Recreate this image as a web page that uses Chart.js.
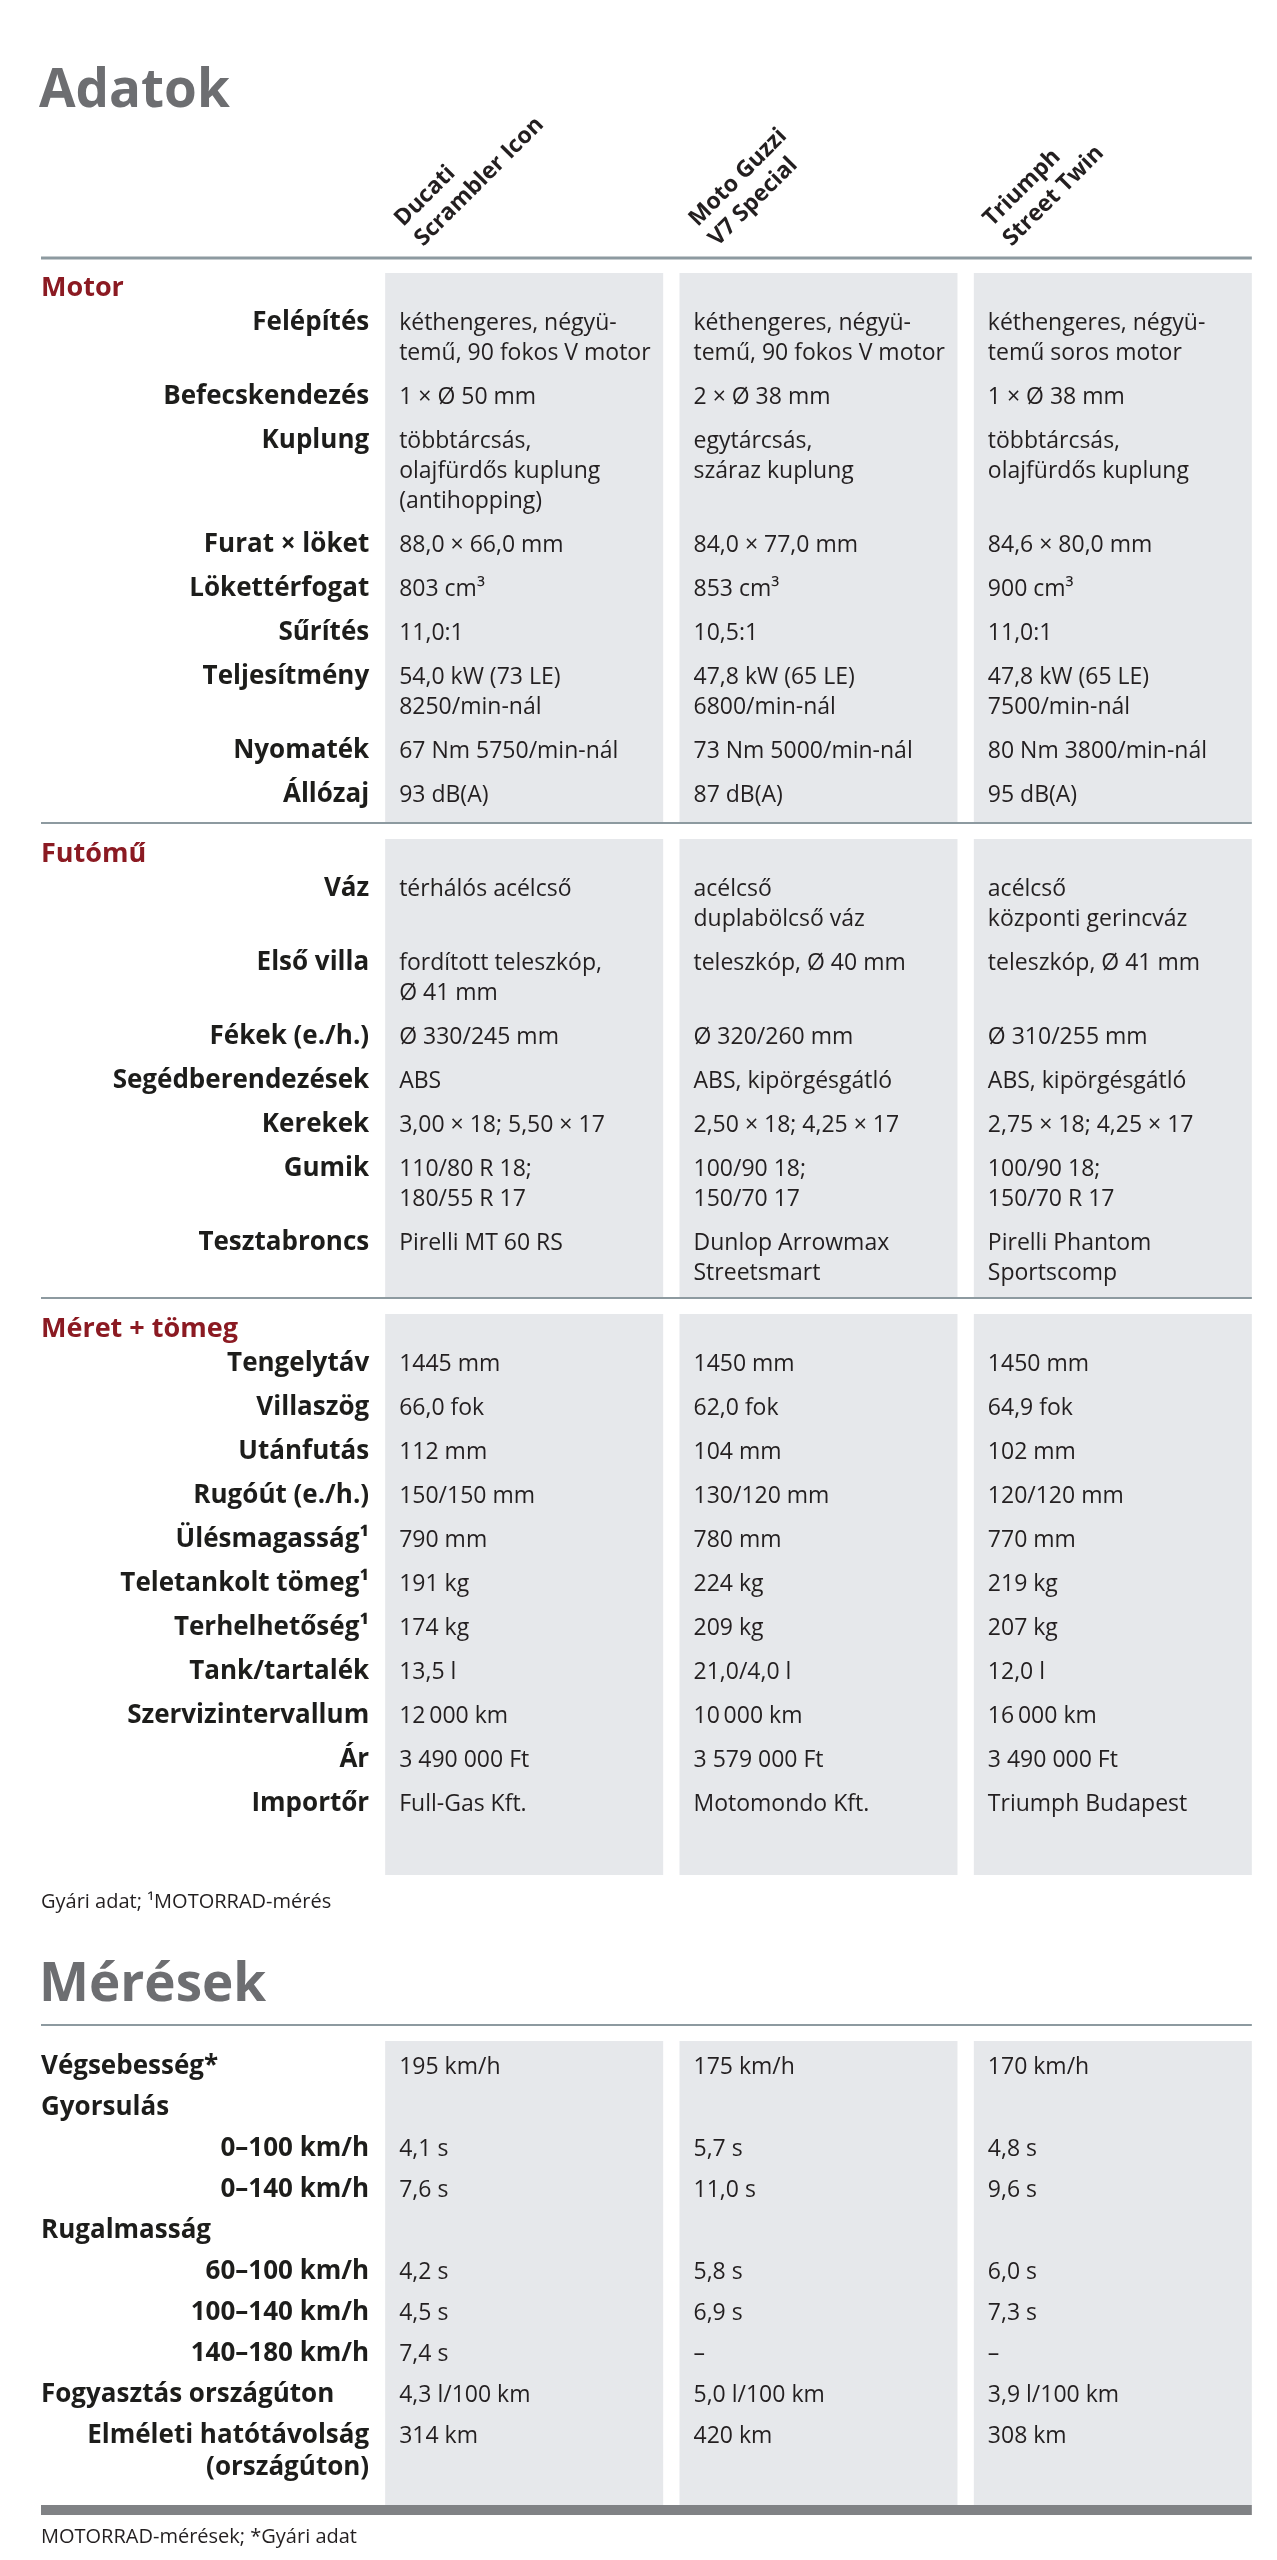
<!DOCTYPE html>
<html lang="hu">
<head>
<meta charset="utf-8">
<title>Adatok – Mérések</title>
<script src="https://cdn.jsdelivr.net/npm/chart.js@4.4.1/dist/chart.umd.min.js"></script>
<style>
  html, body { margin: 0; padding: 0; background: #fff; }
  #wrap { width: 1277px; height: 2560px; }
</style>
</head>
<body>
<div id="wrap"><canvas id="specChart" width="1277" height="2560"></canvas></div>
<script>
// bikes (column heads)
const bikes = [['Ducati', 'Scrambler Icon'], ['Moto Guzzi', 'V7 Special'], ['Triumph', 'Street Twin']];
const sectionTitles = ['Motor', 'Futómű', 'Méret + tömeg'];

const motorLabels = ['Felépítés', 'Befecskendezés', 'Kuplung', 'Furat × löket', 'Lökettérfogat', 'Sűrítés', 'Teljesítmény', 'Nyomaték', 'Állózaj'];
const motorDucati = ['kéthengeres, négyü-\ntemű, 90 fokos V motor', '1 × Ø 50 mm', 'többtárcsás,\nolajfürdős kuplung\n(antihopping)', '88,0 × 66,0 mm', '803 cm³', '11,0:1', '54,0 kW (73 LE)\n8250/min-nál', '67 Nm 5750/min-nál', '93 dB(A)'];
const motorGuzzi = ['kéthengeres, négyü-\ntemű, 90 fokos V motor', '2 × Ø 38 mm', 'egytárcsás,\nszáraz kuplung', '84,0 × 77,0 mm', '853 cm³', '10,5:1', '47,8 kW (65 LE)\n6800/min-nál', '73 Nm 5000/min-nál', '87 dB(A)'];
const motorTriumph = ['kéthengeres, négyü-\ntemű soros motor', '1 × Ø 38 mm', 'többtárcsás,\nolajfürdős kuplung', '84,6 × 80,0 mm', '900 cm³', '11,0:1', '47,8 kW (65 LE)\n7500/min-nál', '80 Nm 3800/min-nál', '95 dB(A)'];

const futomuLabels = ['Váz', 'Első villa', 'Fékek (e./h.)', 'Segédberendezések', 'Kerekek', 'Gumik', 'Tesztabroncs'];
const futomuDucati = ['térhálós acélcső', 'fordított teleszkóp,\nØ 41 mm', 'Ø 330/245 mm', 'ABS', '3,00 × 18; 5,50 × 17', '110/80 R 18;\n180/55 R 17', 'Pirelli MT 60 RS'];
const futomuGuzzi = ['acélcső\nduplabölcső váz', 'teleszkóp, Ø 40 mm', 'Ø 320/260 mm', 'ABS, kipörgésgátló', '2,50 × 18; 4,25 × 17', '100/90 18;\n150/70 17', 'Dunlop Arrowmax\nStreetsmart'];
const futomuTriumph = ['acélcső\nközponti gerincváz', 'teleszkóp, Ø 41 mm', 'Ø 310/255 mm', 'ABS, kipörgésgátló', '2,75 × 18; 4,25 × 17', '100/90 18;\n150/70 R 17', 'Pirelli Phantom\nSportscomp'];

const meretLabels = ['Tengelytáv', 'Villaszög', 'Utánfutás', 'Rugóút (e./h.)', 'Ülésmagasság¹', 'Teletankolt tömeg¹', 'Terhelhetőség¹', 'Tank/tartalék', 'Szervizintervallum', 'Ár', 'Importőr'];
const meretDucati = ['1445 mm', '66,0 fok', '112 mm', '150/150 mm', '790 mm', '191 kg', '174 kg', '13,5 l', '12\u2009000 km', '3 490 000 Ft', 'Full-Gas Kft.'];
const meretGuzzi = ['1450 mm', '62,0 fok', '104 mm', '130/120 mm', '780 mm', '224 kg', '209 kg', '21,0/4,0 l', '10\u2009000 km', '3 579 000 Ft', 'Motomondo Kft.'];
const meretTriumph = ['1450 mm', '64,9 fok', '102 mm', '120/120 mm', '770 mm', '219 kg', '207 kg', '12,0 l', '16\u2009000 km', '3 490 000 Ft', 'Triumph Budapest'];

const meresLabels = ['Végsebesség*', 'Gyorsulás', '0–100 km/h', '0–140 km/h', 'Rugalmasság', '60–100 km/h', '100–140 km/h', '140–180 km/h', 'Fogyasztás országúton', 'Elméleti hatótávolság\n(országúton)'];
const meresGroups = ['Végsebesség*', 'Gyorsulás', 'Rugalmasság', 'Fogyasztás országúton'];
const meresDucati = ['195 km/h', '', '4,1 s', '7,6 s', '', '4,2 s', '4,5 s', '7,4 s', '4,3 l/100 km', '314 km'];
const meresGuzzi = ['175 km/h', '', '5,7 s', '11,0 s', '', '5,8 s', '6,9 s', '–', '5,0 l/100 km', '420 km'];
const meresTriumph = ['170 km/h', '', '4,8 s', '9,6 s', '', '6,0 s', '7,3 s', '–', '3,9 l/100 km', '308 km'];

const notes = ['Gyári adat; ¹MOTORRAD-mérés', 'MOTORRAD-mérések; *Gyári adat'];

// layout
const LEFT = 41;
const FONT = '"Open Sans", "Noto Sans", sans-serif';
const GREY = '#e6e8eb';
const RULE = '#8d9aa0';
const TEXT = '#231f20';

function lineCount(texts) {
  return Math.max(...texts.map(t => t.split('\n').length));
}

function buildRows(labels, cols, startY, pitch, lineH) {
  const rows = [];
  let y = startY;
  labels.forEach((label, r) => {
    const values = cols.map(c => c[r]);
    const n = lineCount([label, ...values]);
    rows.push({ y, label, values, n });
    y += (n - 1) * lineH + pitch;
  });
  return rows;
}

const adatokGroups = [
  [motorLabels, [motorDucati, motorGuzzi, motorTriumph]],
  [futomuLabels, [futomuDucati, futomuGuzzi, futomuTriumph]],
  [meretLabels, [meretDucati, meretGuzzi, meretTriumph]]
];
const tailPad = [21, 18, 64];

const sections = [];
let secTop = 273;
adatokGroups.forEach((g, s) => {
  const rows = buildRows(g[0], g[1], secTop + 57, 44, 30);
  const last = rows[rows.length - 1];
  const bottom = last.y + (last.n - 1) * 30 + tailPad[s];
  sections.push({ title: sectionTitles[s], top: secTop, bottom, rows });
  secTop = bottom + 16;
});

const meresTop = 2041;
const meresRows = buildRows(meresLabels, [meresDucati, meresGuzzi, meresTriumph], meresTop + 33, 41, 32);
const meresBottom = 2505;

const spans = sections.map(s => [s.top, s.bottom]);
spans.push([meresTop, meresBottom]);

const datasets = spans.map(sp => ({
  data: bikes.map(() => sp),
  backgroundColor: GREY,
  borderWidth: 0,
  grouped: false,
  barPercentage: 0.9445,
  categoryPercentage: 1.0
}));

const textPlugin = {
  id: 'textPlugin',
  afterDatasetsDraw(chart) {
    const ctx = chart.ctx;
    const ys = chart.scales.y;
    const bars = chart.getDatasetMeta(0).data;
    const colLeft = bars.map(b => b.x - b.width / 2);
    const right = bars[2].x + bars[2].width / 2;
    const labelRight = colLeft[0] - 16;

    ctx.save();
    ctx.textBaseline = 'alphabetic';

    // big titles
    ctx.fillStyle = '#6d6e71';
    ctx.font = 'bold 53px ' + FONT;
    ctx.textAlign = 'left';
    ctx.fillText('Adatok', LEFT - 2, ys.getPixelForValue(107));
    ctx.fillText('Mérések', LEFT - 2, ys.getPixelForValue(2001));

    // rotated column heads
    ctx.fillStyle = TEXT;
    ctx.font = 'bold 23px ' + FONT;
    bikes.forEach((b, i) => {
      const ox = colLeft[i] + 38, oy = ys.getPixelForValue(247);
      b.forEach((t, k) => {
        const back = (b.length - 1 - k) * 28 * Math.SQRT1_2;
        ctx.save();
        ctx.translate(ox - back, oy - back);
        ctx.rotate(-Math.PI / 4);
        ctx.fillText(t, 0, 0);
        ctx.restore();
      });
    });

    // rules
    function rule(y, w, color) {
      ctx.fillStyle = color;
      ctx.fillRect(LEFT, ys.getPixelForValue(y) - w / 2, right - LEFT, w);
    }
    rule(258, 3, RULE);
    rule(sections[0].bottom, 2, RULE);
    rule(sections[1].bottom, 2, RULE);
    rule(2025, 2, RULE);
    ctx.fillStyle = '#808285';
    ctx.fillRect(LEFT, ys.getPixelForValue(meresBottom), right - LEFT, 10);

    function drawLines(text, x, y, lineH, align) {
      ctx.textAlign = align;
      text.split('\n').forEach((t, k) => ctx.fillText(t, x, ys.getPixelForValue(y + k * lineH)));
    }

    // sections
    sections.forEach(sec => {
      ctx.fillStyle = '#8b1a22';
      ctx.font = 'bold 27px ' + FONT;
      ctx.textAlign = 'left';
      ctx.fillText(sec.title, LEFT, ys.getPixelForValue(sec.top + 23));
      sec.rows.forEach(row => {
        ctx.fillStyle = '#1d1d1b';
        ctx.font = 'bold 26px ' + FONT;
        drawLines(row.label, labelRight, row.y, 30, 'right');
        ctx.fillStyle = TEXT;
        ctx.font = '23px ' + FONT;
        row.values.forEach((v, i) => drawLines(v, colLeft[i] + 14, row.y, 30, 'left'));
      });
    });

    meresRows.forEach(row => {
      ctx.fillStyle = '#1d1d1b';
      ctx.font = 'bold 26px ' + FONT;
      if (meresGroups.includes(row.label)) drawLines(row.label, LEFT, row.y, 32, 'left');
      else drawLines(row.label, labelRight, row.y, 32, 'right');
      ctx.fillStyle = TEXT;
      ctx.font = '23px ' + FONT;
      row.values.forEach((v, i) => drawLines(v, colLeft[i] + 14, row.y, 32, 'left'));
    });

    // notes
    ctx.fillStyle = TEXT;
    ctx.font = '20px ' + FONT;
    ctx.textAlign = 'left';
    ctx.fillText(notes[0], LEFT, ys.getPixelForValue(sections[2].bottom + 33));
    ctx.fillText(notes[1], LEFT, ys.getPixelForValue(2543));
    ctx.restore();
  }
};

new Chart(document.getElementById('specChart'), {
  type: 'bar',
  data: { labels: bikes.map(b => b.join(' ')), datasets },
  options: {
    responsive: false,
    devicePixelRatio: 1,
    animation: false,
    layout: { padding: { left: 377, right: 17, top: 0, bottom: 0 } },
    plugins: { legend: { display: false }, tooltip: { enabled: false } },
    scales: {
      x: { type: 'category', display: false },
      y: { type: 'linear', min: 0, max: 2560, reverse: true, display: false }
    }
  },
  plugins: [textPlugin]
});
</script>
</body>
</html>
